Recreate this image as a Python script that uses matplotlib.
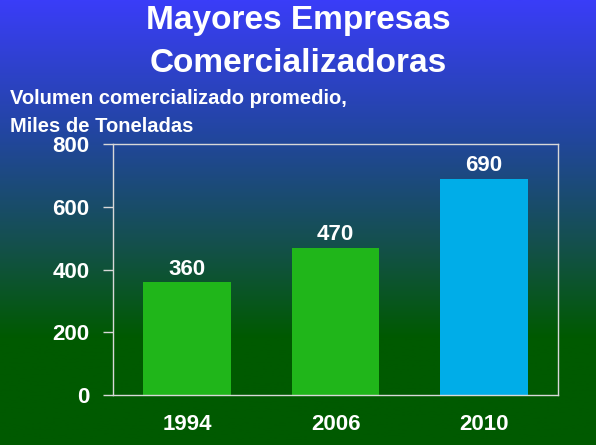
import matplotlib
matplotlib.use("Agg")
import matplotlib.pyplot as plt
import numpy as np
from matplotlib.colors import LinearSegmentedColormap

categories = ["1994", "2006", "2010"]
values = [360, 470, 690]
bar_colors = ["#20B61A", "#20B61A", "#00ADE8"]
yticks = [0, 200, 400, 600, 800]

W, H = 596, 445
fig = plt.figure(figsize=(W / 100, H / 100), dpi=100)

# background gradient
bg = fig.add_axes([0, 0, 1, 1], zorder=0)
cmap = LinearSegmentedColormap.from_list(
    "bg",
    [(0.0, "#3A3DF8"), (0.30, "#2246A0"), (0.55, "#14504C"), (0.76, "#005A00"), (1.0, "#005A00")],
)
grad = np.linspace(0, 1, 256).reshape(-1, 1)
bg.imshow(grad, aspect="auto", cmap=cmap, extent=[0, 1, 0, 1], origin="upper")
bg.set_axis_off()

# plot axes
left, right, top, bottom = 113, 558, 144, 395
ax = fig.add_axes([left / W, 1 - bottom / H, (right - left) / W, (bottom - top) / H], zorder=1)
ax.patch.set_alpha(0)
x = np.arange(len(categories))
ax.bar(x, values, width=0.59, color=bar_colors, zorder=2)
ax.set_xlim(-0.5, 2.5)
ax.set_ylim(0, 800)
ax.set_yticks(yticks)
ax.set_yticklabels([str(t) for t in yticks])
ax.set_xticks(x)
ax.set_xticklabels(categories)
for s in ax.spines.values():
    s.set_color("#D8D8D8")
    s.set_linewidth(1.0)
ax.tick_params(axis="y", colors="#D8D8D8", length=7, width=1, pad=10,
               labelcolor="white", labelsize=16)
ax.tick_params(axis="x", length=0, pad=14, labelcolor="white", labelsize=16)
for lab in ax.get_xticklabels() + ax.get_yticklabels():
    lab.set_fontweight("bold")
    lab.set_fontfamily("Liberation Sans")

for xi, v in zip(x, values):
    ax.text(xi, v + 7, str(v), ha="center", va="bottom", color="white",
            fontsize=16, fontweight="bold", family="Liberation Sans", zorder=3)

fig.text(0.5, 1 - 21 / H, "Mayores Empresas", ha="center", va="center", color="white",
         fontsize=24, fontweight="bold", family="Liberation Sans")
fig.text(0.5, 1 - 64 / H, "Comercializadoras", ha="center", va="center", color="white",
         fontsize=24, fontweight="bold", family="Liberation Sans")
fig.text(10 / W, 1 - 99 / H, "Volumen comercializado promedio,", ha="left", va="center",
         color="white", fontsize=14.5, fontweight="bold", family="Liberation Sans")
fig.text(10 / W, 1 - 126 / H, "Miles de Toneladas", ha="left", va="center",
         color="white", fontsize=14.5, fontweight="bold", family="Liberation Sans")

fig.savefig("out.png", dpi=100)
